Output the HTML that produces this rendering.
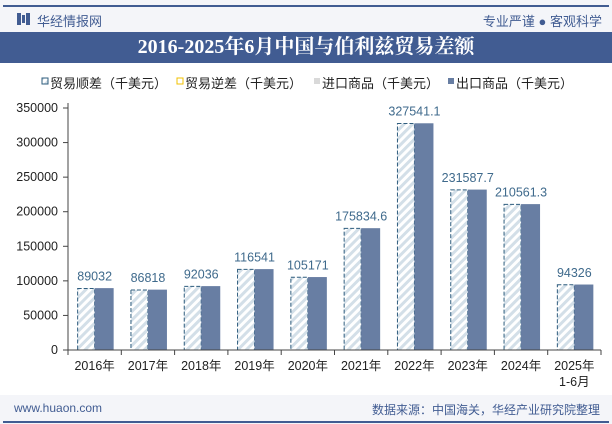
<!DOCTYPE html>
<html><head><meta charset="utf-8"><style>
body{margin:0;width:612px;height:424px;overflow:hidden;background:#fff;font-family:"Liberation Sans","Noto Sans CJK SC",sans-serif;}
#hdr{position:absolute;left:0;top:0;width:612px;height:32px;background:#f4f5f9;}
#title{position:absolute;left:0;top:32px;width:612px;height:31px;background:#415c92;color:#fff;font-size:20px;font-weight:bold;text-align:center;line-height:31px;font-family:"Liberation Serif","Noto Serif CJK SC",serif;}
#ftr{position:absolute;left:0;top:395px;width:612px;height:29px;background:#f4f5f9;}
</style></head><body>
<div id="hdr">
<div style="position:absolute;left:3px;top:5px;width:606px;height:1.5px;background:#415c92"></div>
<div style="position:absolute;left:17px;top:13px;width:4px;height:12px;background:#415c92"></div>
<div style="position:absolute;left:22px;top:15px;width:3px;height:8px;background:#415c92"></div>
<div style="position:absolute;left:26px;top:13px;width:4px;height:12px;background:#415c92"></div>
<div style="position:absolute;left:37px;top:11px;font-size:13px;color:#415c92">华经情报网</div>
<div style="position:absolute;right:10px;top:11px;font-size:13px;color:#415c92">专业严谨 ● 客观科学</div>
</div>
<div id="title">2016-2025年6月中国与伯利兹贸易差额</div>
<div id="ftr">
<div style="position:absolute;left:14px;top:6px;font-size:12px;color:#415c92">www.huaon.com</div>
<div style="position:absolute;right:12px;top:6px;font-size:12px;color:#415c92">数据来源：中国海关，华经产业研究院整理</div>
<div style="position:absolute;left:3px;top:26px;width:606px;height:1.5px;background:#415c92"></div>
</div>
<svg id="chart" width="612" height="424" style="position:absolute;left:0;top:0">
<defs><pattern id="hatch" width="6" height="6" patternUnits="userSpaceOnUse" patternTransform="rotate(45)"><rect width="6" height="6" fill="#fff"/><rect width="3" height="6" fill="#d3dfe8"/></pattern></defs>
<g id="legend" font-size="13" fill="#222">
<rect x="42" y="78" width="6" height="6" fill="url(#hatch)" stroke="#2f5d7e" stroke-width="1"/><text x="50" y="88">贸易顺差（千美元）</text>
<rect x="177" y="78" width="6" height="6" fill="#fff" stroke="#f0c000" stroke-width="1"/><text x="185" y="88">贸易逆差（千美元）</text>
<rect x="314" y="78" width="6" height="6" fill="#d9d9d9"/><text x="322" y="88">进口商品（千美元）</text>
<rect x="448" y="78" width="6" height="6" fill="#687ea3"/><text x="456" y="88">出口商品（千美元）</text>
</g>
<g id="plot"></g>
</svg>
<script>
const categories=["2016年","2017年","2018年","2019年","2020年","2021年","2022年","2023年","2024年","2025年|1-6月"];
const surplus=[89032,86818,92036,116541,105171,175834.6,327541.1,231587.7,210561.3,94326];
const surplusLabels=["89032","86818","92036","116541","105171","175834.6","327541.1","231587.7","210561.3","94326"];
const exportsV=[89500,87300,92400,117000,105500,176200,327900,232000,211000,94700];
const importsV=[300,400,300,400,300,300,350,400,400,300];
const yTicks=[0,50000,100000,150000,200000,250000,300000,350000];
const NS="http://www.w3.org/2000/svg";
const g=document.getElementById('plot');
const x0=68,x1=601,y0=350,y1=108,yMax=350000;
const bw=(x1-x0)/categories.length;
const y=v=>y0-(v/yMax)*(y0-y1);
function el(t,a,p){const e=document.createElementNS(NS,t);for(const k in a)e.setAttribute(k,a[k]);(p||g).appendChild(e);return e;}
yTicks.forEach(t=>{
const tl=el('line',{x1:x0-5,x2:x0,y1:y(t),y2:y(t),stroke:'#444'});


const tx=el('text',{x:x0-10,y:y(t)+4,'text-anchor':'end','font-size':'12.5',fill:'#222'});
tx.textContent=t;


});
categories.forEach((c,i)=>{
const cx=x0+bw*(i+0.5);
const hb=el('rect',{x:cx-17,y:y(surplus[i]),width:17,height:y0-y(surplus[i]),fill:'url(#hatch)',stroke:'#2f5d7e','stroke-dasharray':'4,2','stroke-width':1});


const ib=el('rect',{x:cx-17,y:y(importsV[i]),width:17,height:y0-y(importsV[i]),fill:'#d9d9d9'});


const eb=el('rect',{x:cx,y:y(exportsV[i]),width:19,height:y0-y(exportsV[i]),fill:'#687ea3'});


const lb=el('text',{x:cx,y:y(surplus[i])-8,'text-anchor':'middle','font-size':'12.5',fill:'#3f6a8c'});
lb.textContent=surplusLabels[i];


const tk=el('line',{x1:x0+bw*(i+1),x2:x0+bw*(i+1),y1:y0,y2:y0+5,stroke:'#444'});


c.split('|').forEach((s,j)=>{
const t=el('text',{x:cx,y:y0+20+j*16,'text-anchor':'middle','font-size':'12.5',fill:'#222'});
t.textContent=s;


});
});
const ax=el('line',{x1:x0,x2:x0,y1:y1-5,y2:y0,stroke:'#444'});


const xa=el('line',{x1:x0,x2:x1,y1:y0,y2:y0,stroke:'#444'});


const ft=el('line',{x1:x0,x2:x0,y1:y0,y2:y0+5,stroke:'#444'});


</script>
</body></html>
